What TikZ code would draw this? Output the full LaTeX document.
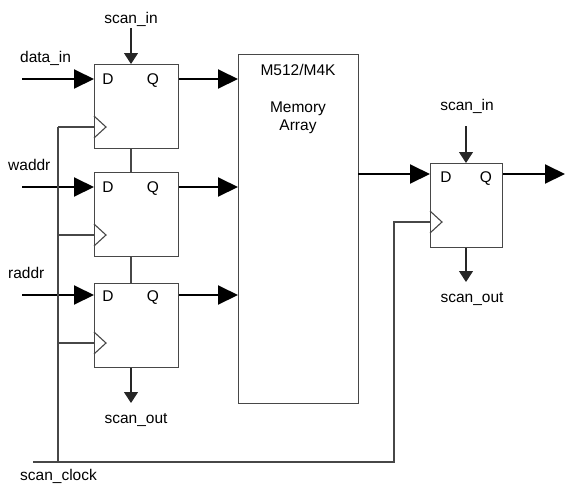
\documentclass[tikz,border=0pt]{standalone}
\usepackage{fontspec}
\setmainfont{Liberation Sans}
\usetikzlibrary{arrows.meta,calc}
\begin{document}
\begin{tikzpicture}[x=1pt,y=-1pt,
  thinline/.style={draw=black!72, line width=1.1pt},
  ffbox/.style={thinline, rectangle, inner sep=0pt, minimum width=84pt, minimum height=84pt, anchor=north west},
  bigarrow/.style={line width=2pt, -{Triangle[length=20pt,width=19pt]}},
  smallarrow/.style={thinline, draw=black!85, -{Triangle[length=11pt,width=14pt]}},
  lbl/.style={font=\fontsize{15.5}{18}\selectfont, inner sep=0pt},
  clk/.style={thinline, line join=miter}
]
\useasboundingbox (0,0) rectangle (565,483);
% boxes
\node[ffbox] (ff1) at (94,64) {};
\node[ffbox] (ff2) at (94,172) {};
\node[ffbox] (ff3) at (94,283) {};
\node[thinline, rectangle, inner sep=0pt, minimum width=120pt, minimum height=349pt, anchor=north west] (mem) at (238,54) {};
\node[ffbox, minimum width=72pt] (ff4) at (430,163) {};
% D / Q labels
\node[lbl, anchor=base] (d1) at (108,84) {D};
\node[lbl, anchor=base] (q1) at (153,84) {Q};
\node[lbl, anchor=base] (d2) at (108,192) {D};
\node[lbl, anchor=base] (q2) at (153,192) {Q};
\node[lbl, anchor=base] (d3) at (108,301) {D};
\node[lbl, anchor=base] (q3) at (153,301) {Q};
\node[lbl, anchor=base] (d4) at (446,182) {D};
\node[lbl, anchor=base] (q4) at (486,182) {Q};
% memory text
\node[lbl, anchor=base] (m1) at (298,75) {M512/M4K};
\node[lbl, anchor=base] (m2) at (298,112) {Memory};
\node[lbl, anchor=base] (m3) at (298,130) {Array};
% signal labels
\node[lbl, anchor=base] (si1) at (131,23) {scan\_in};
\node[lbl, anchor=base west] (din) at (20,62) {data\_in};
\node[lbl, anchor=base west] (wad) at (8,170) {waddr};
\node[lbl, anchor=base west] (rad) at (8,278) {raddr};
\node[lbl, anchor=base] (so1) at (136,423) {scan\_out};
\node[lbl, anchor=base west] (sck) at (20,480.5) {scan\_clock};
\node[lbl, anchor=base] (si4) at (467,110) {scan\_in};
\node[lbl, anchor=base] (so4) at (472,302) {scan\_out};
% input coordinates
\coordinate (i1) at (22,79);
\coordinate (i2) at (22,187);
\coordinate (i3) at (22,295);
\coordinate (mo) at (358,174);
\coordinate (oend) at (565,174);
% data arrows
\draw[bigarrow] (i1) -- (i1 -| ff1.west);
\draw[bigarrow] (i2) -- (i2 -| ff2.west);
\draw[bigarrow] (i3) -- (i3 -| ff3.west);
\draw[bigarrow] (i1 -| ff1.east) -- (i1 -| mem.west);
\draw[bigarrow] (i2 -| ff2.east) -- (i2 -| mem.west);
\draw[bigarrow] (i3 -| ff3.east) -- (i3 -| mem.west);
\draw[bigarrow] (mo) -- (mo -| ff4.west);
\draw[bigarrow] (mo -| ff4.east) -- (oend);
% scan chain
\coordinate (sc1) at (131,28);
\draw[smallarrow] (sc1) -- (sc1 |- ff1.north);
\draw[thinline] (ff1.south -| sc1) -- (ff2.north -| sc1);
\draw[thinline] (ff2.south -| sc1) -- (ff3.north -| sc1);
\coordinate (so1e) at (131,403);
\draw[smallarrow] (so1e |- ff3.south) -- (so1e);
\coordinate (sc4) at (466,126);
\draw[smallarrow] (sc4) -- (sc4 |- ff4.north);
\coordinate (so4e) at (466,282);
\draw[smallarrow] (so4e |- ff4.south) -- (so4e);
% clock triangles
\coordinate (ck1) at (94,127);
\coordinate (ck2) at (94,235);
\coordinate (ck3) at (94,343);
\coordinate (ck4) at (430,222);
\foreach \c in {ck1,ck2,ck3,ck4}{
  \draw[clk] ($(\c)+(0,-11)$) -- ($(\c)+(12,0)$) -- ($(\c)+(0,11)$);
}
% clock wiring
\coordinate (cx) at (58,462);
\coordinate (cl) at (33,462);
\coordinate (cr) at (394,462);
\draw[thinline] (ck1 -| cx) -- (cx);
\draw[thinline] (ck1 -| cx) -- (ck1);
\draw[thinline] (ck2 -| cx) -- (ck2);
\draw[thinline] (ck3 -| cx) -- (ck3);
\draw[thinline] (cl) -- (cr) -- (cr |- ck4) -- (ck4);
\end{tikzpicture}
\end{document}
